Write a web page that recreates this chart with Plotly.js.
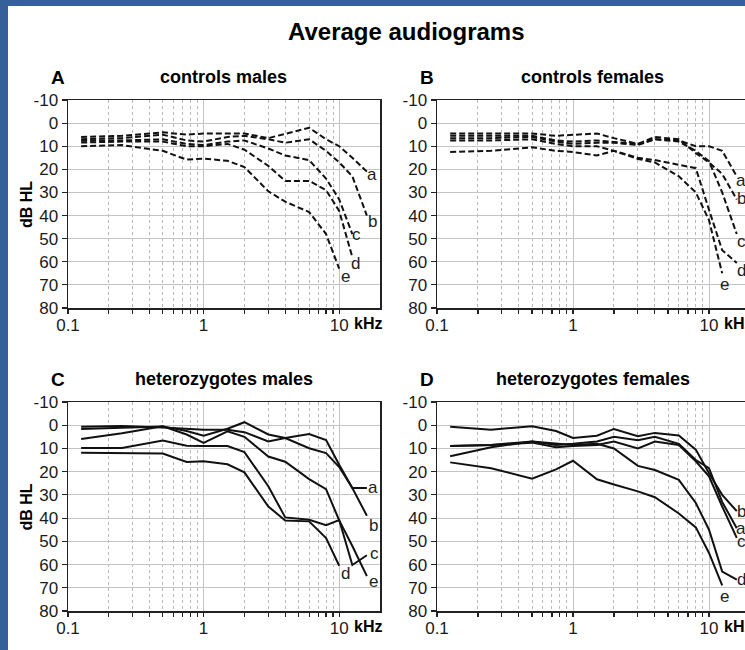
<!DOCTYPE html>
<html>
<head>
<meta charset="utf-8">
<script src="https://cdn.plot.ly/plotly-3.0.1.min.js"></script>
<style>
html,body{margin:0;padding:0;background:#fff;}
#chart{width:745px;height:650px;}
</style>
</head>
<body>
<div id="chart"></div>
<script>
// ---------- data ----------
const freqKHz = [0.125, 0.25, 0.5, 0.75, 1, 1.5, 2, 3, 4, 6, 8, 10, 12.5, 16];
const curveLetters = ['a', 'b', 'c', 'd', 'e'];
const xTickVals = [0.1, 1, 10];
const xTickText = ['0.1', '1', '10'];
const xMinorVals = [0.2, 0.3, 0.4, 0.5, 0.6, 0.7, 0.8, 0.9, 2, 3, 4, 5, 6, 7, 8, 9];
const yTickVals = [-10, 0, 10, 20, 30, 40, 50, 60, 70, 80];
const yTickText = ['-10', '0', '10', '20', '30', '40', '50', '60', '70', '80'];

// A: controls males (dB HL)
const ctrlMales_a = [6, 5.5, 4, 5, 4.5, 4.5, 4.5, 6.5, 4.5, 2, 7, 10, 15, 21];
const ctrlMales_b = [7, 6.5, 5, 7.5, 8, 6, 5.5, 7, 8.5, 7, 12, 17, 23, 40];
const ctrlMales_c = [7.6, 7.5, 7, 9, 9.5, 8, 7.5, 11, 14, 16, 24, 33, 48, null];
const ctrlMales_d = [8.4, 8, 8, 10, 10, 9, 11.5, 18.5, 25, 25, 29, 38, 58, null];
const ctrlMales_e = [10, 9.5, 12, 15.8, 15.4, 16.3, 19, 29.5, 34, 38.5, 48, 63, null, null];

// B: controls females
const ctrlFemales_a = [4.5, 4.5, 4.5, 5.5, 5, 4.5, 6.5, 9, 7, 7.5, 10, 10, 12, 23];
const ctrlFemales_b = [5.5, 5.5, 5.5, 7.5, 8, 7.5, 8, 9, 6, 7, 13, 17, 22, 33];
const ctrlFemales_c = [6.5, 6.5, 6, 8, 9, 8.5, 8.5, 9.5, 7, 8, 12, 16.5, 30, 48];
const ctrlFemales_d = [7.5, 7.5, 7, 9, 10, 10, 12, 15, 16, 18, 19.5, 37.5, 55, 60.5];
const ctrlFemales_e = [12.5, 12, 10.5, 12, 12.5, 14, 12, 15.5, 17, 23, 30, 42, 65, null];

// C: heterozygotes males
const hetMales_a = [0.7, 0.3, 1, 1.5, 2, 2, 3, 7, 5.5, 3.8, 6.4, 17, 27, 27];
const hetMales_b = [1.6, 1, 0.5, 2.5, 4.5, 1.5, -1.3, 4, 5.5, 9.9, 12, 18, 27, 39];
const hetMales_c = [9.8, 9.8, 6.6, 8.8, 9, 9, 11.6, 26.3, 39.7, 40.7, 43, 40.8, 60.2, 56];
const hetMales_d = [11.9, 11.9, 12.2, 15.8, 15.5, 16.8, 20.3, 35, 41, 41.4, 48.6, 60.5, null, null];
const hetMales_e = [5.9, 3.5, 0.5, 4, 7.6, 2.6, 5, 13.5, 15.7, 23.2, 27.5, 41, 52, 65];

// D: heterozygotes females
const hetFemales_a = [9, 8.5, 7, 8.5, 8, 7, 5, 6.5, 5, 8, 15, 18.5, 33, 44.4];
const hetFemales_b = [0.7, 1.9, 0.4, 2.5, 5.5, 4.5, 1.6, 4.7, 3.3, 4.4, 10.5, 20.7, 30, 37];
const hetFemales_c = [9, 8.5, 7.5, 9.5, 9, 8.5, 7, 10, 7, 8.5, 15.5, 22, 35, 48.5];
const hetFemales_d = [13.4, 9.5, 7, 8, 8.5, 8, 10, 17.5, 19.3, 23.5, 33.5, 45, 63, 66.5];
const hetFemales_e = [16, 18.5, 23, 19, 15.3, 23.3, 25.5, 28.5, 31, 38, 44, 55, 69, null];

// ---------- layout helpers ----------
const W = 745, H = 650;
const px = x => x / W;
const py = y => 1 - y / H;
const FONT = 'Liberation Sans, Arial, Helvetica, sans-serif';
const INK = '#1a1a1a';

const panels = [
  {letter: 'A', title: 'controls males', series: [ctrlMales_a, ctrlMales_b, ctrlMales_c, ctrlMales_d, ctrlMales_e],
   dash: '6px,3px', xa: 'x', ya: 'y', left: 68, right: 380, top: 100, bottom: 308, full: true,
   labelPos: [[17.46, 22.4], [17.46, 42.6], [13.46, 48.4], [13.09, 60.6], [11.04, 66.4]]},
  {letter: 'B', title: 'controls females', series: [ctrlFemales_a, ctrlFemales_b, ctrlFemales_c, ctrlFemales_d, ctrlFemales_e],
   dash: '6px,3px', xa: 'x2', ya: 'y2', left: 437, right: 745, top: 100, bottom: 308, full: false,
   labelPos: [[17.3, 25], [17.3, 32.5], [17.3, 51.3], [17.3, 63.9], [13.03, 70]]},
  {letter: 'C', title: 'heterozygotes males', series: [hetMales_a, hetMales_b, hetMales_c, hetMales_d, hetMales_e],
   dash: 'solid', xa: 'x3', ya: 'y3', left: 68, right: 380, top: 402, bottom: 611, full: true,
   labelPos: [[17.85, 26.7], [17.85, 43], [18.16, 55.2], [11.04, 63.8], [17.85, 67.4]]},
  {letter: 'D', title: 'heterozygotes females', series: [hetFemales_a, hetFemales_b, hetFemales_c, hetFemales_d, hetFemales_e],
   dash: 'solid', xa: 'x4', ya: 'y4', left: 437, right: 745, top: 402, bottom: 611, full: false,
   labelPos: [[17.3, 44.6], [17.3, 37.0], [17.3, 50.0], [17.3, 66.4], [13.03, 73.8]]}
];

const traces = [];
const annotations = [];
const layout = {
  width: W, height: H,
  margin: {l: 0, r: 0, t: 0, b: 0},
  paper_bgcolor: '#ffffff', plot_bgcolor: '#ffffff',
  showlegend: false,
  font: {family: FONT, color: INK},
  shapes: [
    {type: 'rect', xref: 'paper', yref: 'paper', x0: 0, x1: px(8), y0: 0, y1: 1, fillcolor: '#35609a', line: {width: 0}, layer: 'above'},
    {type: 'rect', xref: 'paper', yref: 'paper', x0: 0, x1: 1, y0: py(6), y1: 1, fillcolor: '#35609a', line: {width: 0}, layer: 'above'}
  ],
  annotations: annotations
};

annotations.push({xref: 'paper', yref: 'paper', x: px(406), y: py(31), text: '<b>Average audiograms</b>',
  showarrow: false, xanchor: 'center', yanchor: 'middle', font: {size: 24, family: FONT, color: '#000'}});

panels.forEach((p, pi) => {
  const decadePx = (p.left === 68) ? 135.6 : 136;
  const xr = [-1, -1 + (p.right - p.left) / decadePx];
  const xKey = 'xaxis' + (pi === 0 ? '' : (pi + 1));
  const yKey = 'yaxis' + (pi === 0 ? '' : (pi + 1));
  layout[xKey] = {
    type: 'log', domain: [px(p.left), px(p.right)], range: xr, anchor: p.ya,
    showline: true, linecolor: '#222', linewidth: 1.5, mirror: true,
    ticks: 'outside', ticklen: 4, tickwidth: 1.2, tickcolor: '#222',
    tickmode: 'array', tickvals: xTickVals, ticktext: xTickText, ticklabelstandoff: -3,
    tickfont: {size: 17, family: FONT, color: INK},
    showgrid: true, gridcolor: '#c4c4c4', gridwidth: 1, zeroline: false,
    minor: {tickmode: 'array', tickvals: xMinorVals, ticks: 'outside', ticklen: 4, tickwidth: 1.2, tickcolor: '#222',
            showgrid: true, gridcolor: '#b8b8b8', gridwidth: 1, griddash: '3px,3px'},
    fixedrange: true
  };
  layout[yKey] = {
    domain: [py(p.bottom), py(p.top)], range: [80, -10], anchor: p.xa,
    showline: true, linecolor: '#222', linewidth: 1.5, mirror: p.full,
    ticks: 'outside', ticklen: 5, tickwidth: 1.2, tickcolor: '#222',
    tickmode: 'array', tickvals: yTickVals, ticktext: yTickText,
    tickfont: {size: 17, family: FONT, color: INK},
    showgrid: true, gridcolor: '#c4c4c4', gridwidth: 1, zeroline: false,
    fixedrange: true
  };

  p.series.forEach((vals, si) => {
    traces.push({
      type: 'scatter', mode: 'lines', x: freqKHz, y: vals, xaxis: p.xa, yaxis: p.ya,
      line: {color: '#111', width: 2, dash: p.dash}, connectgaps: false, hoverinfo: 'skip',
      name: p.letter + curveLetters[si]
    });
    const lp = p.labelPos[si];
    annotations.push({xref: p.xa, yref: p.ya, x: Math.log10(lp[0]), y: lp[1], text: curveLetters[si],
      showarrow: false, xanchor: 'center', yanchor: 'middle', font: {size: 17, family: FONT, color: '#222'}});
  });

  const ttlY = p.top - 23;
  annotations.push({xref: 'paper', yref: 'paper', x: px(p.left - 10), y: py(ttlY), text: '<b>' + p.letter + '</b>',
    showarrow: false, xanchor: 'center', yanchor: 'middle', font: {size: 19, family: FONT, color: '#000'}});
  annotations.push({xref: 'paper', yref: 'paper', x: px(p.left + 155.5), y: py(ttlY), text: '<b>' + p.title + '</b>',
    showarrow: false, xanchor: 'center', yanchor: 'middle', font: {size: 18, family: FONT, color: '#000'}});
  annotations.push({xref: p.xa, yref: p.ya, x: 1, y: 80, xshift: 13, yshift: -15, text: '<b>kHz</b>',
    showarrow: false, xanchor: 'left', yanchor: 'middle', font: {size: 16, family: FONT, color: '#000'}});
  if (p.full) {
    annotations.push({xref: 'paper', yref: 'paper', x: px(26), y: py((p.top + p.bottom) / 2), text: '<b>dB HL</b>',
      textangle: -90, showarrow: false, xanchor: 'center', yanchor: 'middle', font: {size: 16, family: FONT, color: '#000'}});
  }
});

Plotly.newPlot('chart', traces, layout, {staticPlot: true, displayModeBar: false});
</script>
</body>
</html>
